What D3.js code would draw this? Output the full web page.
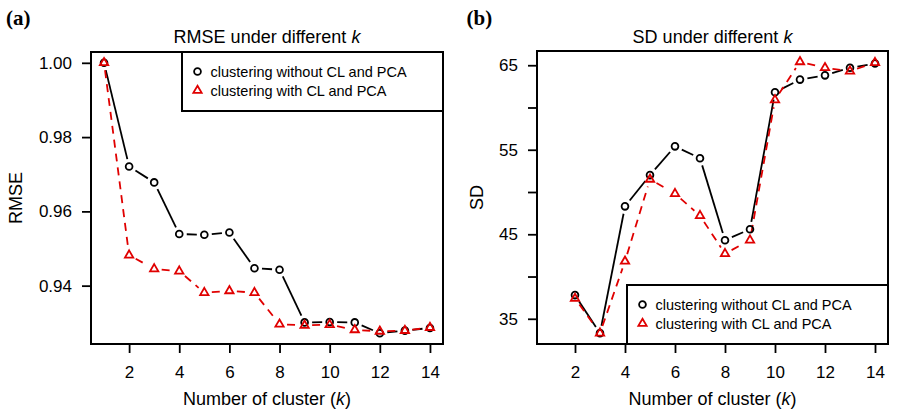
<!DOCTYPE html>
<html>
<head>
<meta charset="utf-8">
<script src="https://cdn.jsdelivr.net/npm/d3@7/dist/d3.min.js"></script>
<style>
  body { margin: 0; background: #fff; }
  text { font-family: "Liberation Sans", Arial, Helvetica, sans-serif; }
</style>
</head>
<body>
<div id="chart"></div>
<script>
// values
const kRmse = [1, 2, 3, 4, 5, 6, 7, 8, 9, 10, 11, 12, 13, 14];
const rmseWithout = [1.000, 0.9721, 0.9678, 0.9539, 0.9537, 0.9543, 0.9447, 0.9443, 0.9301, 0.9302, 0.9301, 0.9272, 0.9279, 0.9286];
const rmseWith = [1.000, 0.9482, 0.9445, 0.9439, 0.9381, 0.9386, 0.9381, 0.9296, 0.9293, 0.9295, 0.9281, 0.9277, 0.9279, 0.9287];

const kSd = [2, 3, 4, 5, 6, 7, 8, 9, 10, 11, 12, 13, 14];
const sdWithout = [37.8, 33.3, 48.3, 52.0, 55.4, 54.0, 44.3, 45.6, 61.8, 63.3, 63.8, 64.7, 65.2];
const sdWith = [37.4, 33.3, 41.8, 51.5, 49.8, 47.2, 42.7, 44.3, 60.9, 65.4, 64.7, 64.3, 65.3];

const xTicks = [2, 4, 6, 8, 10, 12, 14];
const rmseTicks = [0.94, 0.96, 0.98, 1.00];
const rmseTickLabels = ["0.94", "0.96", "0.98", "1.00"];
const sdTicks = [35, 40, 45, 50, 55, 60, 65];
const sdTickLabels = ["35", "", "45", "", "55", "", "65"];

const seriesNames = ["clustering without CL and PCA", "clustering with CL and PCA"];

const W = 897, H = 410;
const svg = d3.select("#chart").append("svg")
  .attr("width", W).attr("height", H)
  .attr("viewBox", [0, 0, W, H].join(" "));

// R style padding: 4% each side
function padded(ext) {
  const d = (ext[1] - ext[0]) * 0.04;
  return [ext[0] - d, ext[1] + d];
}

function panel(opt) {
  const g = svg.append("g");
  const x = d3.scaleLinear().domain(padded([1, 14])).range([opt.left, opt.right]);
  const y = d3.scaleLinear()
    .domain(padded(d3.extent(opt.s1.concat(opt.s2))))
    .range([opt.bottom, opt.top]);

  // axes
  const xa = g.append("g")
    .attr("transform", "translate(0," + opt.bottom + ")")
    .call(d3.axisBottom(x).tickValues(xTicks).tickSize(9).tickPadding(13).tickFormat(d3.format("d")));
  const ya = g.append("g")
    .attr("transform", "translate(" + opt.left + ",0)")
    .call(d3.axisLeft(y).tickValues(opt.ticks).tickSize(9).tickPadding(10)
      .tickFormat((d, i) => opt.tickLabels[i]));
  [xa, ya].forEach(a => {
    a.select(".domain").remove();
    a.selectAll("line").attr("stroke", "#000").attr("stroke-width", 1.8);
    a.selectAll("text").attr("fill", "#000").style("font-size", "17px")
      .style("font-family", "'Liberation Sans', Arial, sans-serif");
  });

  // box
  g.append("rect")
    .attr("x", opt.left).attr("y", opt.top)
    .attr("width", opt.right - opt.left).attr("height", opt.bottom - opt.top)
    .attr("fill", "none").attr("stroke", "#000").attr("stroke-width", 2);

  // panel letter
  g.append("text")
    .attr("x", opt.letterX).attr("y", 25)
    .style("font-family", "'Liberation Serif', 'Times New Roman', serif")
    .style("font-weight", "bold").style("font-size", "21px")
    .text(opt.letter);

  // title
  const t = g.append("text")
    .attr("x", (opt.left + opt.right) / 2).attr("y", 43)
    .attr("text-anchor", "middle").style("font-size", "18px");
  t.append("tspan").text(opt.title + " under different ");
  t.append("tspan").style("font-style", "italic").text("k");

  // x label
  const xl = g.append("text")
    .attr("x", (opt.left + opt.right) / 2).attr("y", 405)
    .attr("text-anchor", "middle").style("font-size", "18px");
  xl.append("tspan").text("Number of cluster (");
  xl.append("tspan").style("font-style", "italic").text("k");
  xl.append("tspan").text(")");

  // y label
  g.append("text")
    .attr("transform", "translate(" + opt.ylabX + "," + (opt.top + opt.bottom) / 2 + ") rotate(-90)")
    .attr("text-anchor", "middle").style("font-size", "18px")
    .text(opt.title);

  // lines with gaps around points (R type = "b")
  const gap = 7.5;
  function gapLines(vals, color, dash) {
    const pts = opt.k.map((k, i) => [x(k), y(vals[i])]);
    const segs = [];
    for (let i = 0; i < pts.length - 1; i++) {
      const [x0, y0] = pts[i], [x1, y1] = pts[i + 1];
      const len = Math.hypot(x1 - x0, y1 - y0);
      if (len <= 2 * gap) continue;
      const ux = (x1 - x0) / len, uy = (y1 - y0) / len;
      segs.push([[x0 + ux * gap, y0 + uy * gap], [x1 - ux * gap, y1 - uy * gap]]);
    }
    g.selectAll(null).data(segs).enter().append("path")
      .attr("d", d => d3.line()(d))
      .attr("fill", "none").attr("stroke", color).attr("stroke-width", 1.8)
      .attr("stroke-dasharray", dash);
  }
  gapLines(opt.s1, "#000", null);
  gapLines(opt.s2, "#e00000", "8,6");

  const tri = d3.symbol().type(d3.symbolTriangle).size(30);
  g.selectAll(null).data(opt.s1).enter().append("circle")
    .attr("cx", (d, i) => x(opt.k[i])).attr("cy", d => y(d)).attr("r", 3.4)
    .attr("fill", "none").attr("stroke", "#000").attr("stroke-width", 1.8);
  g.selectAll(null).data(opt.s2).enter().append("path")
    .attr("d", tri)
    .attr("transform", (d, i) => "translate(" + x(opt.k[i]) + "," + y(d) + ")")
    .attr("fill", "none").attr("stroke", "#e00000").attr("stroke-width", 1.8);

  // legend
  const lw = 261, lh = 59;
  const lx = opt.right - lw;
  const ly = opt.legendPos === "top" ? opt.top : opt.bottom - lh;
  const lg = g.append("g");
  lg.append("rect").attr("x", lx).attr("y", ly).attr("width", lw).attr("height", lh)
    .attr("fill", "#fff").attr("stroke", "#000").attr("stroke-width", 2);
  lg.append("circle").attr("cx", lx + 15.5).attr("cy", ly + 19.5).attr("r", 3.4)
    .attr("fill", "none").attr("stroke", "#000").attr("stroke-width", 1.8);
  lg.append("path").attr("d", tri)
    .attr("transform", "translate(" + (lx + 15.5) + "," + (ly + 38.5) + ")")
    .attr("fill", "none").attr("stroke", "#e00000").attr("stroke-width", 1.8);
  seriesNames.forEach((name, i) => {
    lg.append("text").attr("x", lx + 28.5).attr("y", ly + 19.5 + i * 19 + 5)
      .style("font-size", "14.5px").text(name);
  });
}

panel({
  left: 91, right: 443, top: 52, bottom: 344,
  k: kRmse, s1: rmseWithout, s2: rmseWith,
  ticks: rmseTicks, tickLabels: rmseTickLabels,
  title: "RMSE", letter: "(a)", letterX: 6, ylabX: 22, legendPos: "top"
});

panel({
  left: 537, right: 888, top: 51, bottom: 344,
  k: kSd, s1: sdWithout, s2: sdWith,
  ticks: sdTicks, tickLabels: sdTickLabels,
  title: "SD", letter: "(b)", letterX: 466.5, ylabX: 483, legendPos: "bottom"
});
</script>
</body>
</html>
